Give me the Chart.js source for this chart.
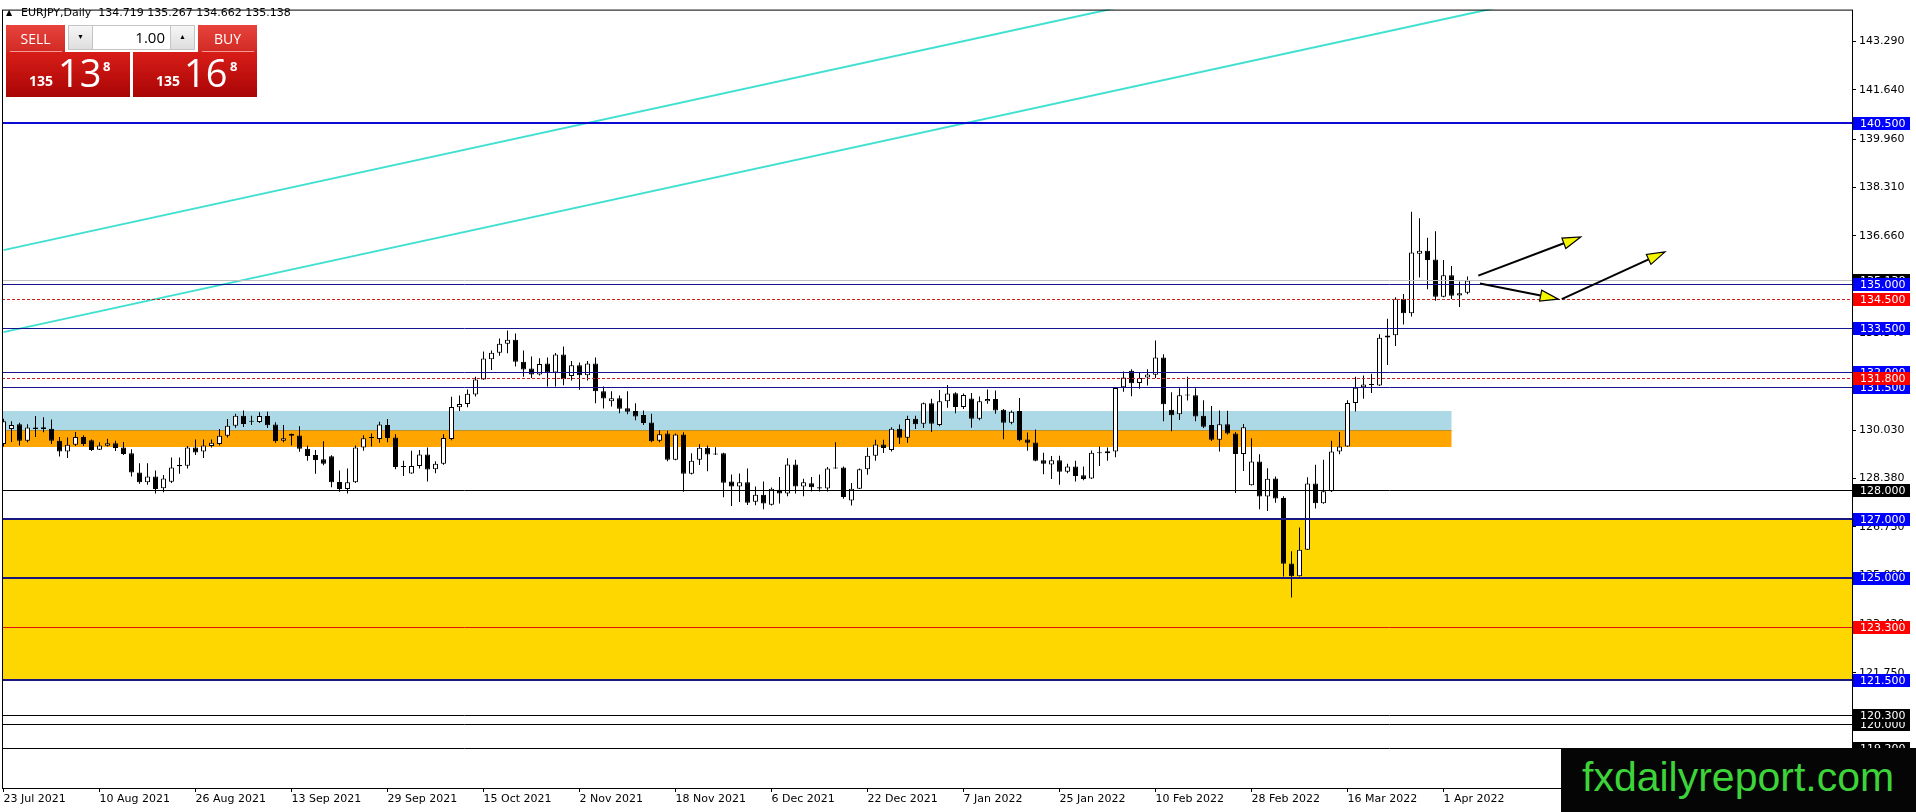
<!DOCTYPE html>
<html>
<head>
<meta charset="utf-8">
<script src="https://cdn.jsdelivr.net/npm/chart.js@4.4.1/dist/chart.umd.min.js"></script>
<style>
  html, body { margin: 0; padding: 0; background: #fff; overflow: hidden; }
  #wrap { position: relative; width: 1916px; height: 812px; }
  canvas { display: block; }
  .abs { position: absolute; }
  #hdr { left: 6px; top: 6px; font: 11px 'DejaVu Sans', sans-serif; color: #000; white-space: pre; line-height: 14px; }
  #hdr .tri { display: inline-block; width: 15px; font-size: 8px; vertical-align: 1px; }
  .btn { top: 25px; width: 59px; height: 27px; background: linear-gradient(#e8433d, #d12a24); color: #fff;
         font: 14px 'Open Sans', sans-serif; line-height: 27px; text-align: center; }
  .hl { top: 51px; height: 1px; background: #f29a96; }
  .spin { top: 25px; height: 23px; border: 1px solid #c4c4c4; background: linear-gradient(#f6f6f6, #dedede);
          font-size: 7px; line-height: 23px; text-align: center; color: #000; }
  #qty { left: 93px; top: 25px; width: 72px; height: 23px; border-top: 1px solid #c4c4c4; border-bottom: 1px solid #c4c4c4;
         background: #fff; font: 15px 'Open Sans', sans-serif; line-height: 23px; text-align: right; padding-right: 5px; color: #000; }
  .big { top: 52px; width: 124px; height: 45px; background: linear-gradient(#d81d18, #a90505); }
  .pt { color: #fff; font-family: 'Open Sans', sans-serif; line-height: 1; white-space: pre; }
  #wm { left: 1561px; top: 748px; width: 355px; height: 64px; background: #050505; color: #3dd43a;
        font: 41px 'Liberation Sans', Arial, sans-serif; line-height: 58px; padding-left: 21px; box-sizing: border-box; }
</style>
</head>
<body>
<div id="wrap">
  <canvas id="chart" width="1916" height="812"></canvas>
  <div id="hdr" class="abs"><span class="tri">&#9650;</span><span id="hdrText"></span></div>
  <div class="abs btn" style="left:6px">SELL</div>
  <div class="abs hl" style="left:10px;width:52px"></div>
  <div class="abs spin" style="left:68px;width:23px">&#9660;</div>
  <div id="qty" class="abs">1.00</div>
  <div class="abs spin" style="left:170px;width:23px">&#9650;</div>
  <div class="abs btn" style="left:198px">BUY</div>
  <div class="abs hl" style="left:202px;width:52px"></div>
  <div class="abs big" style="left:6px"></div>
  <div class="abs big" style="left:133px"></div>
  <div class="abs pt" style="left:29px;top:74px;font-size:14px;font-weight:700">135</div>
  <div class="abs pt" style="left:58px;top:53px;font-size:38px">13</div>
  <div class="abs pt" style="left:103px;top:60px;font-size:13px;font-weight:700">8</div>
  <div class="abs pt" style="left:156px;top:74px;font-size:14px;font-weight:700">135</div>
  <div class="abs pt" style="left:184px;top:53px;font-size:38px">16</div>
  <div class="abs pt" style="left:230px;top:60px;font-size:13px;font-weight:700">8</div>
  <div id="wm" class="abs">fxdailyreport.com</div>
</div>
<script>
// EURJPY daily candles, 23 Jul 2021 .. early Apr 2022 (bar index 0..183)
const opens = [
  129.56, 130.07, 130.23, 129.67, 130.12, 130.13, 130.08, 129.67, 129.30, 129.53,
  129.80, 129.69, 129.36, 129.50, 129.58, 129.44, 129.24, 128.59, 128.25, 128.45,
  128.05, 128.27, 128.84, 128.82, 129.44, 129.30, 129.49, 129.56, 129.84, 130.18,
  130.52, 130.34, 130.31, 130.51, 130.22, 129.67, 129.90, 129.85, 129.40, 129.18,
  129.04, 129.14, 128.26, 128.02, 128.25, 129.44, 129.76, 129.73, 130.21, 129.78,
  128.79, 128.55, 128.81, 129.20, 128.70, 128.88, 129.73, 130.81, 130.92, 131.25,
  131.76, 132.45, 132.67, 132.98, 133.11, 132.36, 132.13, 131.93, 132.30, 132.00,
  132.61, 131.88, 132.24, 131.90, 132.30, 131.36, 131.02, 131.12, 130.78, 130.68,
  130.55, 130.29, 129.67, 129.92, 129.02, 129.88, 128.54, 129.02, 129.43, 129.23,
  129.24, 128.28, 128.11, 128.25, 127.59, 127.83, 127.49, 128.00, 127.87, 128.86,
  128.11, 128.22, 128.08, 128.04, 128.76, 128.76, 127.63, 128.03, 128.70, 129.16,
  129.54, 129.35, 130.08, 129.77, 130.42, 130.25, 130.95, 130.21, 131.02, 131.29,
  130.82, 131.11, 130.42, 131.02, 131.09, 130.73, 130.28, 130.68, 129.71, 129.61,
  129.00, 128.86, 129.00, 128.61, 128.79, 128.49, 128.38, 129.24, 129.24, 129.30,
  131.49, 132.06, 131.64, 131.83, 131.92, 132.51, 130.73, 130.57, 131.23, 131.22,
  130.52, 130.21, 129.70, 130.23, 129.92, 129.22, 128.15, 128.96, 127.77, 128.38,
  127.72, 125.48, 125.05, 125.95, 128.21, 127.54, 127.95, 129.30, 129.47, 130.96,
  131.49, 131.59, 131.55, 133.19, 133.27, 134.51, 134.02, 136.05, 136.15, 135.85,
  134.58, 135.31, 134.62, 134.719
];
const highs = [
  130.42, 130.33, 130.28, 130.23, 130.51, 130.47, 130.39, 129.80, 129.78, 129.97,
  129.86, 129.71, 129.62, 129.74, 129.67, 129.63, 129.38, 128.90, 128.90, 128.65,
  128.50, 129.10, 129.10, 129.49, 129.71, 129.71, 129.71, 130.07, 130.41, 130.59,
  130.70, 130.52, 130.64, 130.66, 130.30, 130.21, 129.92, 130.16, 129.51, 129.35,
  129.65, 129.17, 128.65, 128.72, 129.51, 129.86, 129.92, 130.32, 130.41, 129.89,
  128.99, 129.33, 129.35, 129.44, 128.97, 129.89, 131.17, 131.21, 131.42, 131.85,
  132.71, 132.75, 133.16, 133.43, 133.33, 132.75, 132.54, 132.48, 132.51, 132.66,
  132.88, 132.39, 132.34, 132.39, 132.51, 131.52, 131.36, 131.21, 131.36, 130.95,
  130.70, 130.59, 130.03, 130.01, 129.92, 129.96, 129.24, 129.55, 129.51, 129.45,
  129.26, 128.52, 128.55, 128.72, 128.11, 128.28, 128.07, 128.43, 129.07, 129.02,
  128.37, 128.43, 128.52, 128.77, 129.62, 128.79, 128.23, 128.72, 129.43, 129.70,
  129.70, 130.13, 130.22, 130.52, 130.52, 130.97, 131.10, 131.40, 131.57, 131.32,
  131.28, 131.30, 131.18, 131.42, 131.38, 130.75, 130.70, 131.13, 129.95, 130.05,
  129.26, 129.15, 129.16, 128.88, 128.99, 128.79, 129.34, 129.47, 129.44, 131.49,
  132.03, 132.11, 131.98, 132.11, 133.09, 132.62, 131.32, 131.46, 131.85, 131.46,
  131.05, 130.85, 130.70, 130.69, 129.97, 130.24, 129.75, 129.21, 128.73, 128.45,
  127.78, 125.90, 126.71, 128.42, 128.85, 129.02, 129.67, 129.97, 131.05, 131.85,
  131.89, 131.95, 133.30, 133.83, 134.56, 134.67, 137.48, 137.26, 136.59, 136.81,
  135.83, 135.63, 135.10, 135.267
];
const lows = [
  129.47, 129.63, 129.51, 129.62, 129.80, 129.96, 129.56, 129.13, 129.08, 129.49,
  129.49, 129.32, 129.35, 129.47, 129.32, 129.18, 128.45, 128.20, 128.17, 127.87,
  127.91, 128.23, 128.54, 128.72, 129.18, 129.08, 129.44, 129.51, 129.78, 130.11,
  130.14, 130.21, 130.27, 130.10, 129.60, 129.62, 129.51, 129.29, 128.99, 128.54,
  128.83, 128.08, 127.93, 127.87, 128.23, 129.33, 129.47, 129.60, 129.62, 128.70,
  128.47, 128.54, 128.72, 128.28, 128.56, 128.85, 129.69, 130.68, 130.81, 131.18,
  131.75, 132.08, 132.57, 132.65, 132.20, 131.85, 131.81, 131.89, 131.52, 131.52,
  131.56, 131.72, 131.41, 131.72, 130.95, 130.77, 130.84, 130.61, 130.57, 130.37,
  130.21, 129.62, 129.62, 128.97, 129.00, 127.93, 128.52, 128.84, 128.63, 129.18,
  127.74, 127.44, 127.58, 127.48, 127.47, 127.33, 127.46, 127.53, 127.78, 127.87,
  127.78, 127.94, 127.94, 127.94, 128.71, 127.69, 127.46, 128.02, 128.51, 128.99,
  129.25, 129.30, 129.56, 129.60, 130.07, 130.10, 129.97, 130.16, 130.79, 130.61,
  130.75, 130.11, 130.37, 130.93, 130.59, 129.72, 130.23, 129.65, 129.33, 128.97,
  128.53, 128.36, 128.17, 128.56, 128.28, 128.32, 128.36, 128.81, 128.99, 129.11,
  131.34, 131.19, 131.44, 131.55, 131.81, 130.33, 129.99, 130.38, 131.04, 130.33,
  130.10, 129.66, 129.30, 129.88, 127.89, 128.64, 128.14, 127.33, 127.27, 127.55,
  125.04, 124.32, 125.04, 125.94, 127.36, 127.52, 127.92, 129.21, 129.46, 130.67,
  131.10, 131.30, 131.54, 132.25, 132.90, 133.63, 133.91, 135.24, 134.84, 134.44,
  134.56, 134.50, 134.23, 134.662
];
const closes = [
  130.33, 130.21, 129.67, 130.12, 130.07, 130.07, 129.67, 129.30, 129.53, 129.80,
  129.56, 129.35, 129.51, 129.58, 129.42, 129.22, 128.59, 128.25, 128.45, 128.02,
  128.38, 128.76, 128.80, 129.44, 129.27, 129.51, 129.60, 129.84, 130.18, 130.52,
  130.24, 130.32, 130.51, 130.20, 129.65, 129.75, 129.84, 129.40, 129.15, 129.01,
  128.88, 128.25, 128.02, 128.25, 129.44, 129.75, 129.78, 130.22, 129.76, 128.77,
  128.77, 128.81, 129.20, 128.69, 128.88, 129.76, 130.82, 130.92, 131.27, 131.76,
  132.47, 132.67, 132.98, 133.11, 132.36, 132.10, 131.93, 132.29, 132.00, 132.61,
  131.77, 132.24, 131.90, 132.30, 131.36, 131.11, 131.12, 130.76, 130.66, 130.50,
  130.27, 129.65, 129.89, 129.02, 129.88, 128.54, 128.99, 129.43, 129.20, 129.20,
  128.24, 128.11, 128.25, 127.55, 127.83, 127.53, 128.03, 127.87, 128.86, 128.11,
  128.25, 128.08, 128.04, 128.72, 128.72, 127.75, 128.03, 128.70, 129.16, 129.54,
  129.42, 130.08, 129.77, 130.41, 130.23, 130.95, 130.25, 131.02, 131.28, 130.82,
  131.23, 130.42, 131.02, 131.09, 130.70, 130.28, 130.66, 129.69, 129.60, 128.99,
  128.88, 129.00, 128.61, 128.79, 128.47, 128.36, 129.26, 129.26, 129.31, 131.47,
  131.83, 131.63, 131.81, 131.93, 132.51, 130.91, 130.54, 131.22, 131.21, 130.50,
  130.15, 129.70, 130.23, 129.92, 129.22, 130.13, 128.96, 127.77, 128.37, 127.70,
  125.47, 125.05, 125.95, 128.21, 127.54, 127.95, 129.30, 129.47, 130.96, 131.48,
  131.59, 131.57, 133.18, 133.26, 134.51, 134.02, 136.09, 136.15, 135.83, 134.58,
  135.31, 134.61, 134.70, 135.138
];

// time axis labels every 12 bars
const tickBars = [0, 12, 24, 36, 48, 60, 72, 84, 96, 108, 120, 132, 144, 156, 168, 180];
const tickLabels = ['23 Jul 2021', '10 Aug 2021', '26 Aug 2021', '13 Sep 2021', '29 Sep 2021', '15 Oct 2021',
  '2 Nov 2021', '18 Nov 2021', '6 Dec 2021', '22 Dec 2021', '7 Jan 2022', '25 Jan 2022',
  '10 Feb 2022', '28 Feb 2022', '16 Mar 2022', '1 Apr 2022'];
const priceTicks = [143.29, 141.64, 139.96, 138.31, 136.66, 135.00, 133.34, 131.69, 130.03,
  128.38, 126.73, 125.08, 123.42, 121.75, 120.10, 118.45];

// horizontal levels and their kind
const levelPrices = [140.5, 135.0, 134.5, 133.5, 132.0, 131.8, 131.5, 128.0, 127.0, 125.0, 123.3, 121.5, 120.0, 120.3, 119.2];
const levelKinds = ['blueThick', 'blue', 'redDash', 'blue', 'blue', 'redDash', 'blue', 'black',
  'navyThick', 'navyThick', 'red', 'navyThick', 'black', 'black', 'black'];

// rectangles: orange, light blue, gold (end bar null = runs to the right edge)
const zoneLow = [129.45, 130.05, 121.5];
const zoneHigh = [130.05, 130.67, 127.0];
const zoneEnd = [181, 181, null];

// trend lines (bar index, price)
const trendA = [{ x: 0, y: 136.17 }, { x: 200, y: 148.05 }];
const trendB = [{ x: 0, y: 133.373 }, { x: 200, y: 145.23 }];

// arrows (bar index, price)
const arrowFrom = [[184.35, 135.30], [184.56, 135.03], [194.78, 134.50]];
const arrowTo = [[197.15, 136.62], [194.35, 134.50], [207.69, 136.11]];

const LINE_STYLE = {
  blueThick: { color: '#0a0ad2', width: 2, dash: [], label: '#0000ff' },
  blue: { color: '#14148c', width: 1, dash: [], label: '#0000ff' },
  navyThick: { color: '#17177f', width: 2, dash: [], label: '#0000ff' },
  redDash: { color: '#c82020', width: 1, dash: [3, 2], label: '#ff0000' },
  red: { color: '#e01010', width: 1, dash: [], label: '#ff0000' },
  black: { color: '#000000', width: 1, dash: [], label: '#000000' }
};
const ZONE_COLORS = ['#ffa500', '#add8e6', '#ffd700'];
const FONT = "'DejaVu Sans', sans-serif";

const last = closes.length - 1;
document.getElementById('hdrText').textContent =
  `EURJPY,Daily  ${opens[last].toFixed(3)} ${highs[last].toFixed(3)} ${lows[last].toFixed(3)} ${closes[last].toFixed(3)}`;

const bodies = opens.map((o, i) => ({ x: i, y: [o, closes[i]] }));
const wicks = lows.map((l, i) => ({ x: i, y: [l, highs[i]] }));
const bodyFill = opens.map((o, i) => (closes[i] >= o ? '#ffffff' : '#000000'));

function crisp(v, w) {
  return w % 2 ? Math.round(v) + 0.5 : Math.round(v);
}

const mt4Overlay = {
  id: 'mt4Overlay',
  beforeDatasetsDraw(chart) {
    const { ctx, chartArea: a, scales: { x, y } } = chart;
    ctx.save();
    ctx.beginPath();
    ctx.rect(a.left, a.top, a.width, a.height);
    ctx.clip();
    zoneLow.forEach((lo, i) => {
      const right = zoneEnd[i] == null ? a.right : x.getPixelForValue(zoneEnd[i]);
      const top = Math.round(y.getPixelForValue(zoneHigh[i]));
      const bottom = Math.round(y.getPixelForValue(lo));
      ctx.fillStyle = ZONE_COLORS[i];
      ctx.fillRect(a.left, top, right - a.left, bottom - top);
    });
    // thin edge on top of the orange box
    const edge = crisp(y.getPixelForValue(zoneHigh[0]), 1);
    ctx.strokeStyle = '#b8912e';
    ctx.lineWidth = 1;
    ctx.beginPath();
    ctx.moveTo(a.left, edge);
    ctx.lineTo(x.getPixelForValue(zoneEnd[0]), edge);
    ctx.stroke();
    ctx.restore();
  },
  afterDatasetsDraw(chart) {
    const { ctx, chartArea: a, scales: { x, y } } = chart;
    ctx.save();
    ctx.beginPath();
    ctx.rect(a.left, a.top, a.width, a.height);
    ctx.clip();

    // current bid line
    const bidY = crisp(y.getPixelForValue(closes[last]), 1);
    ctx.strokeStyle = '#c0c0c0';
    ctx.lineWidth = 1;
    ctx.beginPath();
    ctx.moveTo(a.left, bidY);
    ctx.lineTo(a.right, bidY);
    ctx.stroke();

    levelPrices.forEach((p, i) => {
      const st = LINE_STYLE[levelKinds[i]];
      const py = crisp(y.getPixelForValue(p), st.width);
      ctx.strokeStyle = st.color;
      ctx.lineWidth = st.width;
      ctx.setLineDash(st.dash);
      ctx.beginPath();
      ctx.moveTo(a.left, py);
      ctx.lineTo(a.right, py);
      ctx.stroke();
    });
    ctx.setLineDash([]);

    // arrows
    arrowFrom.forEach((from, i) => {
      const x0 = x.getPixelForValue(from[0]);
      const y0 = y.getPixelForValue(from[1]);
      const x1 = x.getPixelForValue(arrowTo[i][0]);
      const y1 = y.getPixelForValue(arrowTo[i][1]);
      const ang = Math.atan2(y1 - y0, x1 - x0);
      const len = 18, half = 5.5;
      const bx = x1 - Math.cos(ang) * len;
      const by = y1 - Math.sin(ang) * len;
      ctx.strokeStyle = '#000';
      ctx.lineWidth = 2;
      ctx.beginPath();
      ctx.moveTo(x0, y0);
      ctx.lineTo(bx, by);
      ctx.stroke();
      ctx.beginPath();
      ctx.moveTo(x1, y1);
      ctx.lineTo(bx - Math.sin(ang) * half, by + Math.cos(ang) * half);
      ctx.lineTo(bx + Math.sin(ang) * half, by - Math.cos(ang) * half);
      ctx.closePath();
      ctx.fillStyle = '#f5f500';
      ctx.fill();
      ctx.lineWidth = 1.2;
      ctx.stroke();
    });
    ctx.restore();
  },
  afterDraw(chart) {
    const { ctx, chartArea: a, scales: { y } } = chart;
    ctx.save();
    ctx.strokeStyle = '#000';
    ctx.lineWidth = 1;
    ctx.strokeRect(a.left + 0.5, a.top + 0.5, a.width, a.height);

    ctx.font = `11px ${FONT}`;
    ctx.textBaseline = 'middle';
    const drawLabel = (price, bg) => {
      const py = y.getPixelForValue(price);
      ctx.fillStyle = bg;
      ctx.fillRect(a.right + 1, Math.round(py - 6), 57, 13);
      ctx.fillStyle = '#fff';
      ctx.fillText(price.toFixed(3), a.right + 8, py + 1);
    };
    drawLabel(closes[last], '#000');
    ['black', 'navyThick', 'blueThick', 'blue', 'red', 'redDash'].forEach((kind) => {
      levelPrices.forEach((p, i) => {
        if (levelKinds[i] === kind) drawLabel(p, LINE_STYLE[kind].label);
      });
    });
    ctx.restore();
  }
};

Chart.defaults.font.family = FONT;
Chart.defaults.font.size = 11;
Chart.defaults.color = '#000';

new Chart(document.getElementById('chart'), {
  type: 'bar',
  data: {
    datasets: [
      {
        type: 'line',
        data: trendA,
        borderColor: '#40e0d0',
        borderWidth: 2,
        pointRadius: 0,
        order: -1
      },
      {
        type: 'line',
        data: trendB,
        borderColor: '#40e0d0',
        borderWidth: 2,
        pointRadius: 0,
        order: -1
      },
      {
        data: bodies,
        grouped: false,
        barThickness: 5,
        maxBarThickness: 5,
        backgroundColor: bodyFill,
        borderColor: '#000',
        borderWidth: 1,
        borderSkipped: false,
        inflateAmount: 0,
        minBarLength: 1,
        order: 0
      },
      {
        data: wicks,
        grouped: false,
        barThickness: 1,
        maxBarThickness: 1,
        backgroundColor: '#000',
        borderWidth: 0,
        inflateAmount: 0,
        order: 1
      }
    ]
  },
  options: {
    responsive: false,
    animation: false,
    events: [],
    layout: { padding: { left: 2, top: 2, right: 0, bottom: 0 } },
    plugins: { legend: { display: false }, tooltip: { enabled: false } },
    scales: {
      x: {
        type: 'linear',
        min: -0.1875,
        max: 231.0625,
        bounds: 'data',
        offset: false,
        afterBuildTicks: (s) => { s.ticks = tickBars.map((v) => ({ value: v })); },
        afterFit: (s) => { s.height = 24; },
        ticks: {
          align: 'start',
          autoSkip: false,
          maxRotation: 0,
          padding: 1,
          callback: (v, i) => tickLabels[i]
        },
        grid: { drawOnChartArea: false, drawTicks: true, tickLength: 4, color: '#000', offset: false },
        border: { display: false }
      },
      y: {
        type: 'linear',
        position: 'right',
        min: 117.825,
        max: 144.374,
        bounds: 'data',
        beginAtZero: false,
        afterBuildTicks: (s) => { s.ticks = priceTicks.map((v) => ({ value: v })); },
        afterFit: (s) => { s.width = 64; },
        ticks: {
          autoSkip: false,
          padding: 3,
          callback: (v) => Number(v).toFixed(3)
        },
        grid: { drawOnChartArea: false, drawTicks: true, tickLength: 4, color: '#000' },
        border: { display: false }
      }
    }
  },
  plugins: [mt4Overlay]
});
</script>
</body>
</html>
